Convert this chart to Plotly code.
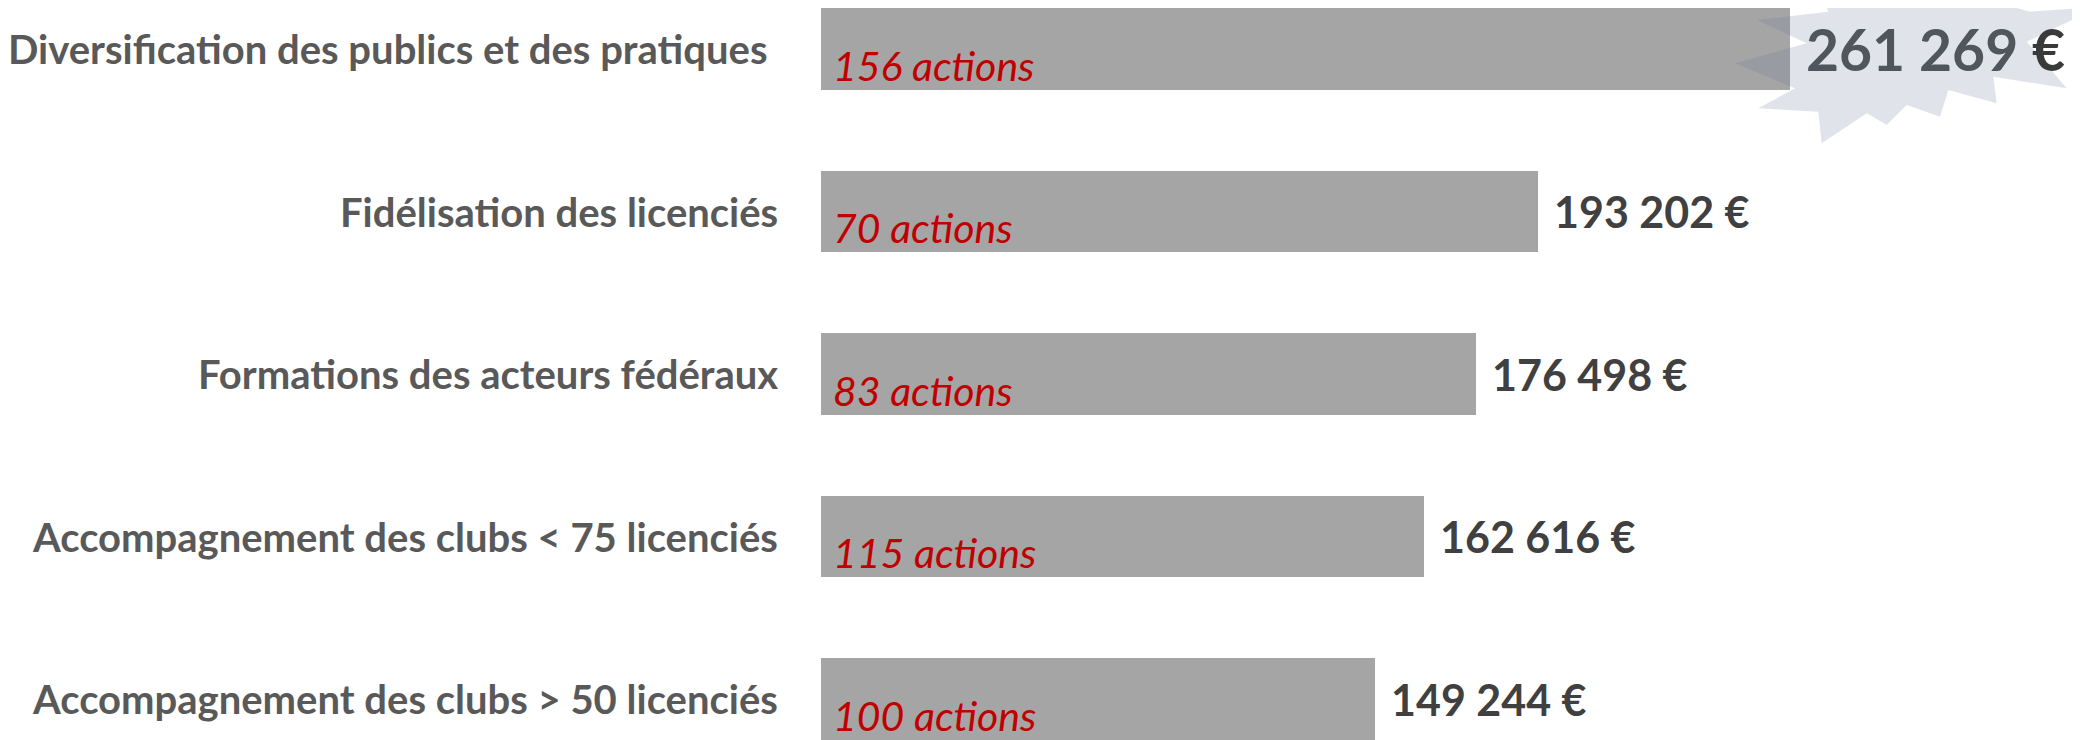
import plotly.graph_objects as go

categories = [
    "Diversification des publics et des pratiques",
    "Fidélisation des licenciés",
    "Formations des acteurs fédéraux",
    "Accompagnement des clubs < 75 licenciés",
    "Accompagnement des clubs > 50 licenciés",
]
montants = [261269, 193202, 176498, 162616, 149244]
actions = [156, 70, 83, 115, 100]
value_labels = ["261 269 €", "193 202 €", "176 498 €", "162 616 €", "149 244 €"]
action_labels = [f"{n} actions" for n in actions]

W, H = 2080, 740
OFF = 8  # page body margin offset
ML = 821 - OFF
PW = W - ML

positions = list(range(len(categories)))
BAR_W = 0.5015
PITCH = 162.5
C0 = 49 - OFF

fig = go.Figure()
fig.add_trace(go.Bar(
    x=montants, y=positions, orientation="h", width=BAR_W,
    marker=dict(color="#a5a5a5", line=dict(width=0)),
    hoverinfo="skip", showlegend=False,
))

# starburst decoration (page-pixel vertices converted to paper coordinates)
star_px = [
    (1756.7, 20), (1828.3, 11.7), (1820, -13.3), (1883.3, 1.7), (1940, -13.3),
    (2030, 11.7), (2100, 6.7), (2026.7, 41.7), (2066.7, 88.3), (1993.3, 76.7),
    (1996.7, 103.3), (1948.3, 90), (1940, 116.7), (1906.7, 105), (1886.7, 125),
    (1866.7, 113.3), (1821.7, 143.3), (1818.3, 111.7), (1758.3, 108.3),
    (1795, 88.3), (1735, 63.3), (1806.7, 43.3),
]
path = ""
for k, (px, py) in enumerate(star_px):
    xp = (px - OFF - ML) / PW
    yp = 1 - (py - OFF) / H
    path += ("M" if k == 0 else "L") + f"{xp:.5f},{yp:.5f} "
path += "Z"

shapes = [dict(type="path", path=path, xref="paper", yref="paper",
               fillcolor="rgba(100,120,150,0.2)", line=dict(width=0), layer="above")]

annotations = []
for i, (cat, v, lab, act) in enumerate(zip(categories, montants, value_labels, action_labels)):
    annotations.append(dict(
        x=0, y=i, xref="x", yref="y", text=cat, showarrow=False,
        xanchor="right", yanchor="middle", xshift=(-52 if i == 0 else -41),
        font=dict(family="Lato", size=40, color="#595959", weight="bold"),
    ))
    annotations.append(dict(
        x=0, y=i + BAR_W / 2, xref="x", yref="y", text=act, showarrow=False,
        xanchor="left", yanchor="bottom", xshift=10, yshift=-2,
        font=dict(family="Lato", size=41, color="#c00000", style="italic"),
    ))
    if i == 0:
        num, eur = lab[:-2], lab[-1]
        txt = f"<span style='color:#50555e'>{num} </span><span style='color:#3a3a3a'>{eur}</span>"
        annotations.append(dict(
            x=v, y=i, xref="x", yref="y", text=txt, showarrow=False,
            xanchor="left", yanchor="middle", xshift=14,
            font=dict(family="Lato", size=57, color="#50555e", weight="bold"),
        ))
    else:
        annotations.append(dict(
            x=v, y=i, xref="x", yref="y", text=lab, showarrow=False,
            xanchor="left", yanchor="middle", xshift=14,
            font=dict(family="Lato", size=43, color="#404040", weight="bold"),
        ))

fig.update_layout(
    width=W, height=H,
    margin=dict(l=ML, r=0, t=0, b=0, pad=0),
    paper_bgcolor="white", plot_bgcolor="white",
    bargap=0,
    xaxis=dict(range=[0, PW * 269.5], visible=False, fixedrange=True),
    yaxis=dict(
        range=[(H - C0) / PITCH, -C0 / PITCH], visible=False, fixedrange=True,
    ),
    shapes=shapes, annotations=annotations,
)

fig.write_html("out.html")
